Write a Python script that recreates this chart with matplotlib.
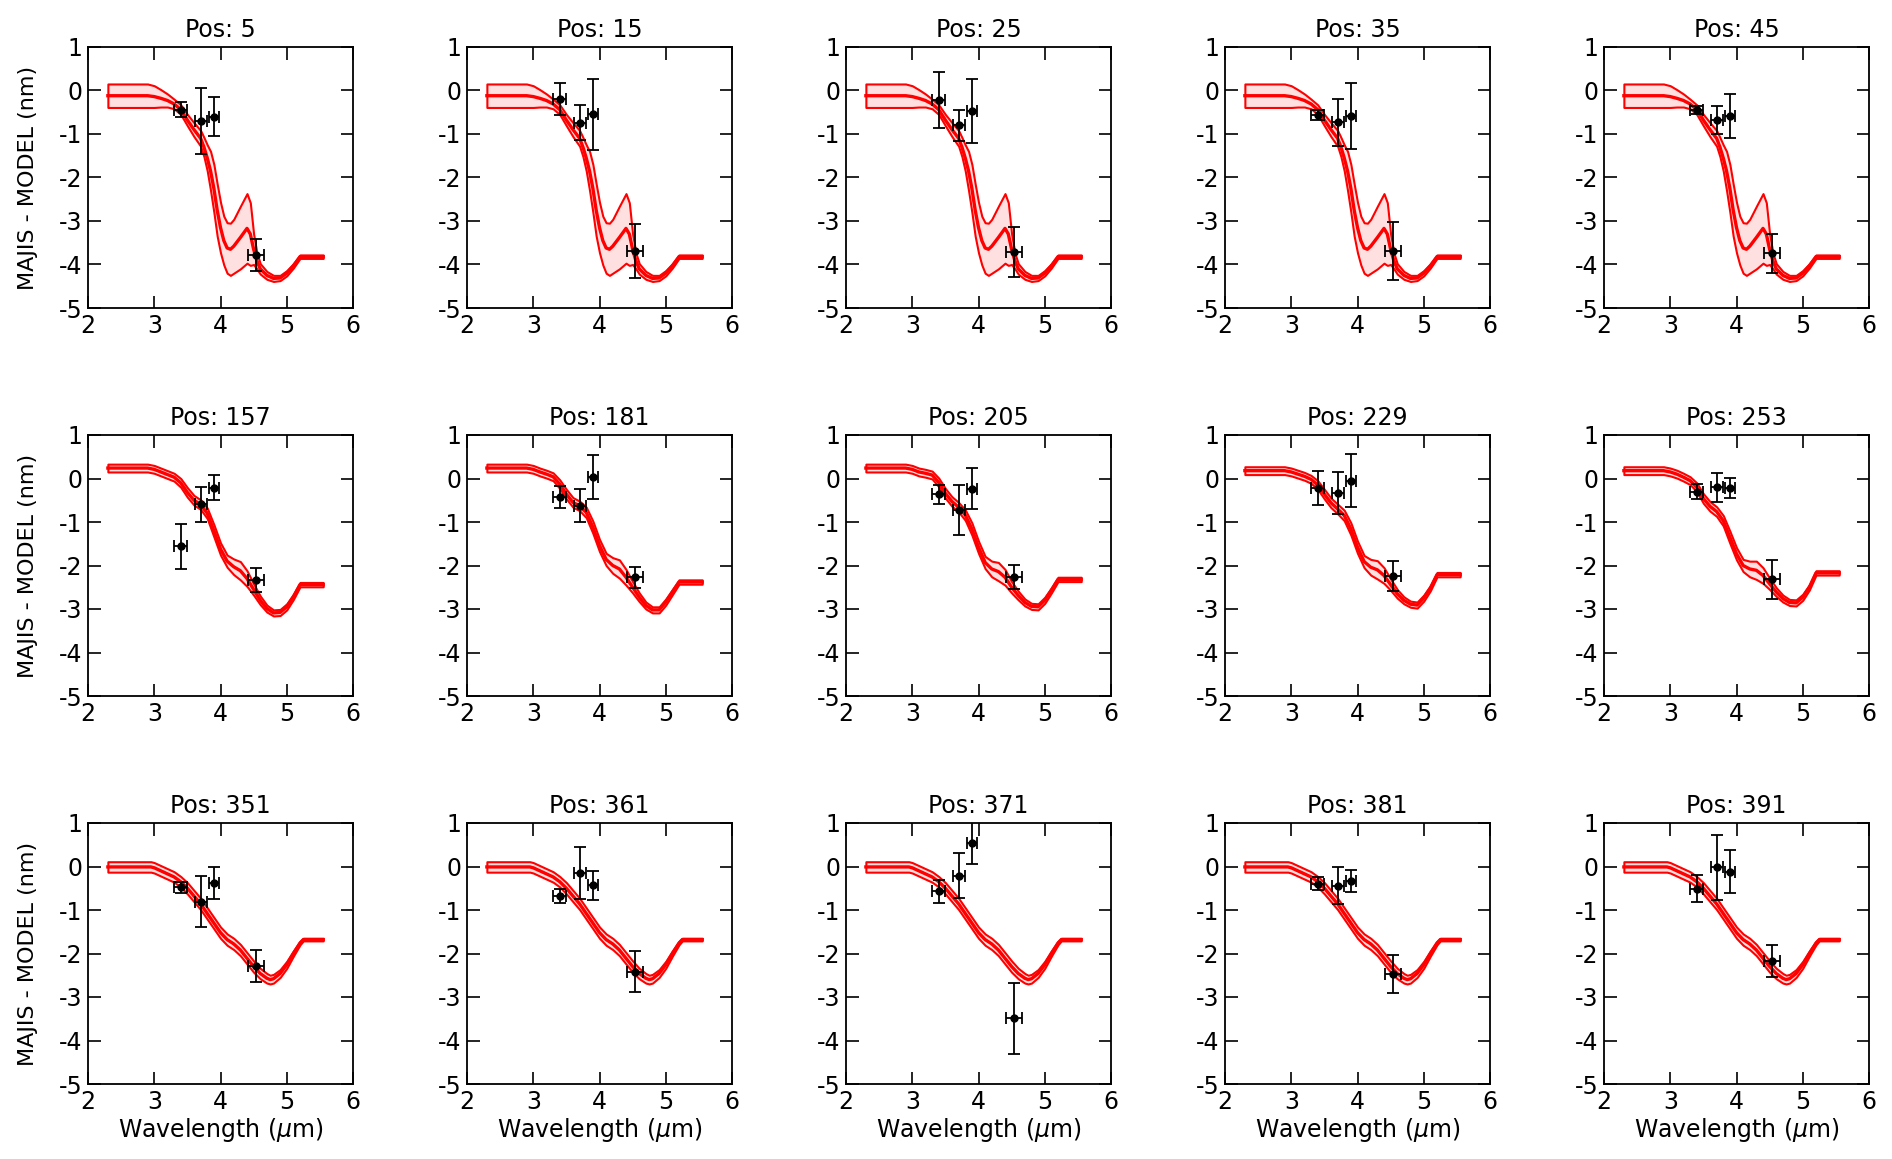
import numpy as np
import matplotlib
matplotlib.use("Agg")
import matplotlib.pyplot as plt

plt.rcParams['font.family'] = ['DejaVu Sans']
plt.rcParams['axes.unicode_minus'] = False

# ---- data ----
positions = [[5, 15, 25, 35, 45],
             [157, 181, 205, 229, 253],
             [351, 361, 371, 381, 391]]

# measured points (same wavelengths in every panel)
wl_pts = [3.40, 3.70, 3.90, 4.54]
wl_err = [0.10, 0.09, 0.07, 0.12]

obs = {
    5:   [-0.44, -0.70, -0.60, -3.79],
    15:  [-0.19, -0.74, -0.55, -3.69],
    25:  [-0.22, -0.80, -0.47, -3.71],
    35:  [-0.56, -0.73, -0.59, -3.69],
    45:  [-0.45, -0.67, -0.59, -3.74],
    157: [-1.56, -0.59, -0.21, -2.33],
    181: [-0.42, -0.63, 0.04, -2.27],
    205: [-0.36, -0.73, -0.23, -2.27],
    229: [-0.21, -0.34, -0.05, -2.24],
    253: [-0.30, -0.20, -0.21, -2.32],
    351: [-0.48, -0.81, -0.38, -2.28],
    361: [-0.67, -0.15, -0.43, -2.42],
    371: [-0.57, -0.21, 0.54, -3.49],
    381: [-0.40, -0.44, -0.34, -2.47],
    391: [-0.51, -0.02, -0.12, -2.17],
}
obs_err = {
    5:   [0.18, 0.75, 0.45, 0.37],
    15:  [0.37, 0.40, 0.81, 0.62],
    25:  [0.64, 0.35, 0.73, 0.58],
    35:  [0.12, 0.54, 0.76, 0.66],
    45:  [0.09, 0.32, 0.50, 0.45],
    157: [0.52, 0.40, 0.29, 0.28],
    181: [0.25, 0.38, 0.50, 0.24],
    205: [0.22, 0.57, 0.46, 0.28],
    229: [0.39, 0.48, 0.61, 0.34],
    253: [0.17, 0.33, 0.23, 0.44],
    351: [0.12, 0.59, 0.36, 0.37],
    361: [0.16, 0.60, 0.33, 0.47],
    371: [0.26, 0.51, 0.48, 0.81],
    381: [0.15, 0.43, 0.25, 0.44],
    391: [0.31, 0.74, 0.50, 0.36],
}

# model curves, row 1 (all five panels the same)
wl_row1 = [2.3, 2.9, 3.0, 3.1, 3.2, 3.3, 3.4, 3.5, 3.6, 3.7, 3.75, 3.8, 3.85, 3.9,
           3.95, 4.0, 4.05, 4.1, 4.15, 4.2, 4.3, 4.4, 4.45, 4.5, 4.55, 4.6, 4.7,
           4.8, 4.9, 5.0, 5.1, 5.2, 5.55]
model_row1 = [-0.12, -0.12, -0.14, -0.18, -0.23, -0.31, -0.44, -0.68, -0.9, -1.1,
              -1.3, -1.55, -1.85, -2.25, -2.75, -3.15, -3.45, -3.62, -3.65, -3.58,
              -3.38, -3.17, -3.3, -3.65, -3.92, -4.1, -4.25, -4.32, -4.31, -4.2,
              -4.03, -3.82, -3.82]
spread_row1 = [0.27, 0.27, 0.25, 0.2, 0.15, 0.11, 0.11, 0.13, 0.16, 0.18, 0.22, 0.3,
               0.45, 0.55, 0.6, 0.58, 0.56, 0.58, 0.6, 0.62, 0.72, 0.8, 0.72, 0.35,
               0.18, 0.12, 0.09, 0.07, 0.06, 0.06, 0.05, 0.04, 0.04]

# row 2
wl_row2 = [2.3, 2.9, 3.0, 3.1, 3.2, 3.3, 3.4, 3.5, 3.6, 3.7, 3.8, 3.9, 4.0, 4.1,
           4.2, 4.3, 4.4, 4.5, 4.6, 4.7, 4.8, 4.9, 5.0, 5.1, 5.2, 5.55]
model_row2 = {
    157: [0.24, 0.24, 0.21, 0.15, 0.09, 0.03, -0.10, -0.32, -0.50, -0.60, -0.80,
          -1.20, -1.62, -1.90, -2.03, -2.12, -2.30, -2.55, -2.80, -2.99, -3.09,
          -3.08, -2.95, -2.72, -2.44, -2.44],
    181: [0.24, 0.24, 0.21, 0.15, 0.10, 0.04, -0.13, -0.36, -0.55, -0.63, -0.78,
          -1.12, -1.54, -1.86, -2.00, -2.08, -2.27, -2.50, -2.73, -2.92, -3.02,
          -3.02, -2.84, -2.61, -2.38, -2.38],
    205: [0.24, 0.24, 0.21, 0.15, 0.12, 0.08, -0.09, -0.34, -0.53, -0.66, -0.84,
          -1.16, -1.58, -1.93, -2.08, -2.14, -2.27, -2.50, -2.69, -2.85, -2.94,
          -2.95, -2.80, -2.57, -2.32, -2.32],
    229: [0.18, 0.18, 0.15, 0.10, 0.05, -0.02, -0.15, -0.36, -0.56, -0.70, -0.85,
          -1.16, -1.58, -1.91, -2.04, -2.10, -2.23, -2.44, -2.65, -2.80, -2.89,
          -2.91, -2.75, -2.52, -2.21, -2.21],
    253: [0.18, 0.18, 0.15, 0.10, 0.03, -0.05, -0.20, -0.46, -0.64, -0.76, -0.97,
          -1.35, -1.73, -2.00, -2.08, -2.11, -2.23, -2.42, -2.61, -2.76, -2.85,
          -2.86, -2.73, -2.50, -2.17, -2.17],
}
spread_row2 = [0.09, 0.09, 0.09, 0.09, 0.09, 0.09, 0.1, 0.11, 0.11, 0.11, 0.12,
               0.14, 0.14, 0.14, 0.18, 0.21, 0.18, 0.13, 0.1, 0.08, 0.07, 0.07,
               0.07, 0.06, 0.05, 0.05]

# row 3 (all five panels the same)
wl_row3 = [2.3, 2.95, 3.0, 3.1, 3.2, 3.3, 3.4, 3.5, 3.6, 3.7, 3.8, 3.9, 4.0, 4.1,
           4.2, 4.3, 4.4, 4.5, 4.6, 4.7, 4.75, 4.8, 4.9, 5.0, 5.1, 5.2, 5.25, 5.55]
model_row3 = [-0.01, -0.01, -0.03, -0.10, -0.17, -0.24, -0.35, -0.50, -0.68, -0.86,
              -1.08, -1.30, -1.52, -1.68, -1.78, -1.92, -2.11, -2.30, -2.46, -2.57,
              -2.60, -2.58, -2.46, -2.26, -2.00, -1.76, -1.68, -1.68]
spread_row3 = [0.12, 0.12, 0.12, 0.12, 0.12, 0.12, 0.12, 0.13, 0.13, 0.13, 0.13,
               0.13, 0.13, 0.13, 0.13, 0.13, 0.13, 0.13, 0.12, 0.11, 0.1, 0.1,
               0.09, 0.08, 0.06, 0.04, 0.03, 0.03]


def get_model(row, pos):
    if row == 0:
        return wl_row1, model_row1, spread_row1
    if row == 1:
        return wl_row2, model_row2[pos], spread_row2
    return wl_row3, model_row3, spread_row3


W, H = 1892, 1159
fig = plt.figure(figsize=(W / 100, H / 100), dpi=100)

col_left = [88, 467, 846, 1225, 1604]   # pixels
row_top = [47, 435, 823]
ax_w, ax_h = 265, 261

for r in range(3):
    for c in range(5):
        pos = positions[r][c]
        ax = fig.add_axes([col_left[c] / W, 1 - (row_top[r] + ax_h) / H, ax_w / W, ax_h / H])

        x, m, s = get_model(r, pos)
        x = np.array(x)
        m = np.array(m)
        s = np.array(s)
        ax.fill_between(x, m - s, m + s, facecolor='#ffe0e0', edgecolor='red', linewidth=1.5)
        ax.plot(x, m, color='red', lw=2.4)

        ax.errorbar(wl_pts, obs[pos], yerr=obs_err[pos], xerr=wl_err, fmt='o',
                    color='black', ms=5, elinewidth=1.3, capsize=4, capthick=1.3)

        ax.set_xlim(2, 6)
        ax.set_ylim(-5, 1)
        ax.set_xticks([2, 3, 4, 5, 6])
        ax.set_yticks([-5, -4, -3, -2, -1, 0, 1])
        ax.tick_params(direction='in', length=9, width=1.2, top=True, right=True,
                       labelsize=17, pad=4)
        for sp in ax.spines.values():
            sp.set_linewidth(1.3)
        ax.set_title(f"Pos: {pos}", fontsize=17, pad=7)

        if c == 0:
            ax.set_ylabel("MAJIS - MODEL (nm)", fontsize=16)
            ax.yaxis.set_label_coords(-0.19, 0.5)
        if r == 2:
            ax.set_xlabel(r"Wavelength ($\mu$m)", fontsize=17, labelpad=2)

fig.savefig("out.png", dpi=100)
